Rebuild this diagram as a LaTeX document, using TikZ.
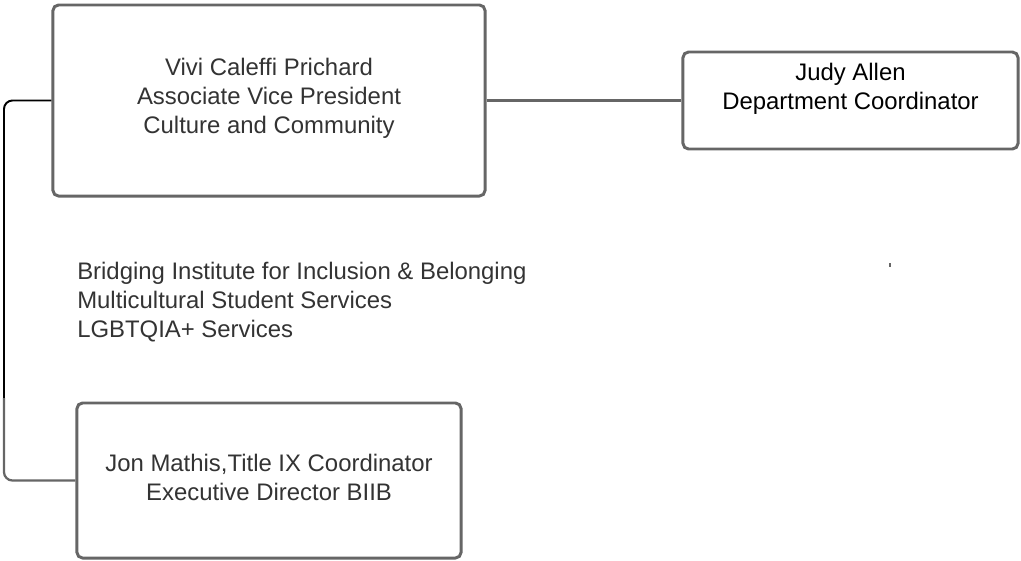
\documentclass[tikz,border=0pt]{standalone}
\usepackage{fontspec}
\setmainfont{Liberation Sans}
\usepackage{tikz}
\usetikzlibrary{positioning}
\definecolor{boxgray}{HTML}{666666}
\definecolor{textgray}{HTML}{333333}

\begin{document}
\begin{tikzpicture}[x=0.025cm, y=-0.025cm,
	staffbox/.style={draw=boxgray, line width=2.1pt, rounded corners=4pt, fill=white,
		align=center, text=textgray, inner sep=0pt},
	orgtext/.style={font=\fontsize{17}{20.6}\selectfont},
	link/.style={draw=boxgray, line width=1.6pt}]
			\useasboundingbox (0,0) rectangle (1021,560);
			\node (vp) [staffbox, minimum width=10.8cm, minimum height=4.775cm] at (269,100.5) {};
			\node (vptext) [orgtext, align=center, text=textgray] at (269,98)
				{Vivi Caleffi Prichard\\Associate Vice President\\Culture and Community};
			\node (judy) [staffbox, minimum width=8.375cm, minimum height=2.425cm] at (850.5,100.5) {};
			\node (judytext) [orgtext, align=center, text=black] at (850.5,88.5) {Judy Allen\\Department Coordinator};
			\node (jon) [staffbox, minimum width=9.6cm, minimum height=3.875cm] at (269,480.5) {};
			\node (jontext) [orgtext, align=center, text=textgray] at (269,477)
				{Jon Mathis,Title IX Coordinator\\Executive Director BIIB};
			\node (units) [orgtext, align=left, text=textgray, anchor=west, inner sep=0pt] at (77,302.5)
				{Bridging Institute for Inclusion \& Belonging\\Multicultural Student Services\\LGBTQIA+ Services};

			\coordinate (turn) at (4,398);
			\draw [link] (vp.east) -- (judy.west);
			\draw [line width=1.4pt, rounded corners=6pt] (vp.west) -| (turn);
			\draw [link, rounded corners=6pt] (turn) |- (jon.west);
			\fill [boxgray] (889,263) rectangle (891,267);
		\end{tikzpicture}
\end{document}
